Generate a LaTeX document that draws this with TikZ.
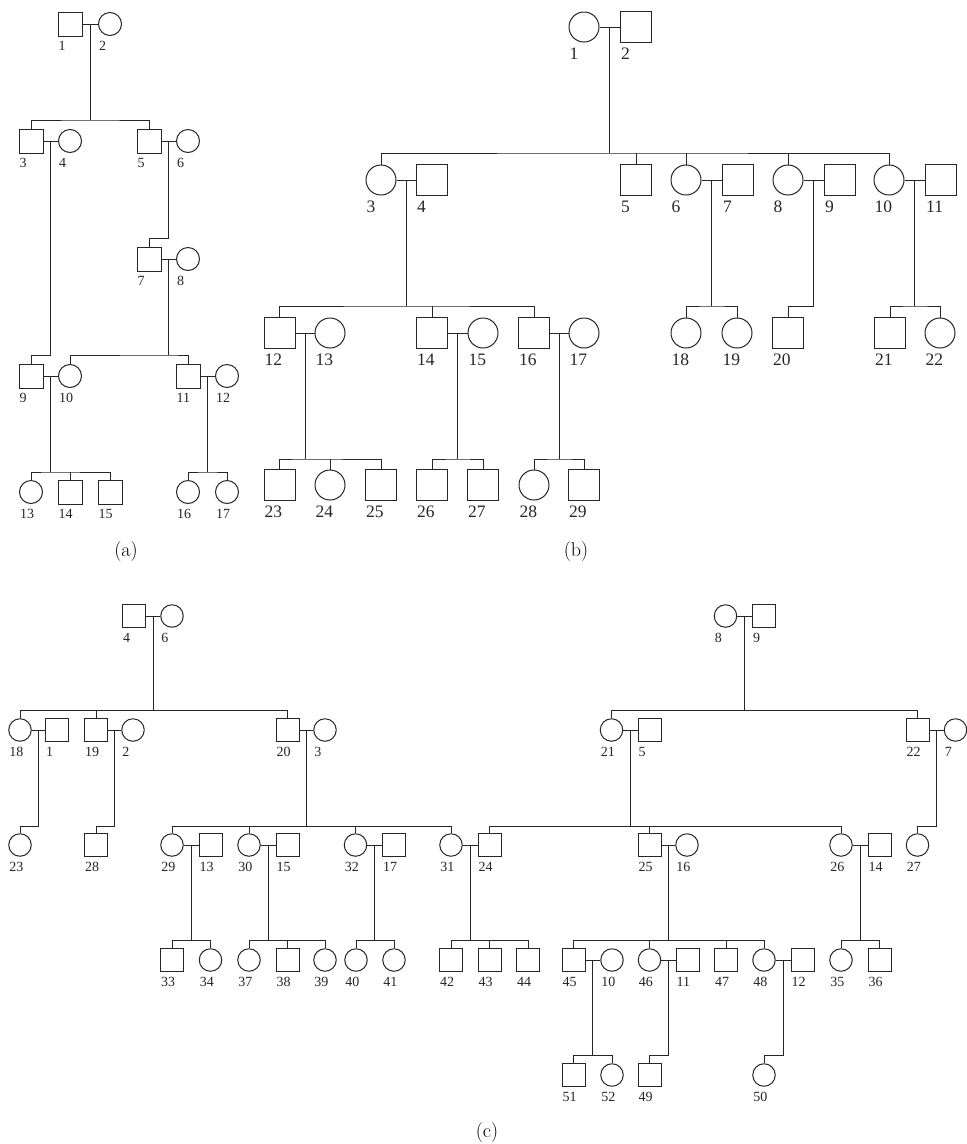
\documentclass[tikz,border=0pt]{standalone}
\usepackage{fontspec}
\newfontfamily\tnr{Liberation Serif}
\usetikzlibrary{calc}
\tikzset{
  ln/.style={line width=1pt, draw=black!85},
  Ma/.style={ln, rectangle, minimum size=24pt, inner sep=0pt},
  Fa/.style={ln, circle, minimum size=23pt, inner sep=0pt},
  Mc/.style={ln, rectangle, minimum size=23pt, inner sep=0pt},
  Fc/.style={ln, circle, minimum size=22.5pt, inner sep=0pt},
  Mb/.style={ln, rectangle, minimum size=31pt, inner sep=0pt},
  Fb/.style={ln, circle, minimum size=30pt, inner sep=0pt},
  labA/.style={anchor=north west, inner sep=0pt, font=\tnr\fontsize{14}{16}\selectfont, text=black!85},
  labB/.style={anchor=north west, inner sep=0pt, font=\tnr\fontsize{17.5}{20}\selectfont, text=black!85},
  captxt/.style={inner sep=0pt, font=\fontsize{20}{23}\selectfont},
}
\newcommand\ind[6]{%
  \node[#1] (#3) at (#4,#5) {};
  \node[#2] (#3l) at ($(#3.west |- #3.south)+(1,5)$) {#6};}
\newcommand\cpl[3]{%
  \draw[ln] (#2) -- (#3);
  \coordinate (#1) at ($(#2.east)!.5!(#3.west)$);}
\begin{document}
\begin{tikzpicture}[x=1pt,y=-1pt]
\useasboundingbox (0,0) rectangle (967,1144);
\fill[white] (0,0) rectangle (967,1144);

% ---------------- (a)
\ind{Ma}{labA}{a1}{70}{24}{1}
\ind{Fa}{labA}{a2}{110}{24}{2}
\ind{Ma}{labA}{a3}{31}{141}{3}
\ind{Fa}{labA}{a4}{70}{141}{4}
\ind{Ma}{labA}{a5}{149}{141}{5}
\ind{Fa}{labA}{a6}{188}{141}{6}
\ind{Ma}{labA}{a7}{149}{259}{7}
\ind{Fa}{labA}{a8}{188}{259}{8}
\ind{Ma}{labA}{a9}{31}{376}{9}
\ind{Fa}{labA}{a10}{70}{376}{10}
\ind{Ma}{labA}{a11}{188}{376}{11}
\ind{Fa}{labA}{a12}{227}{376}{12}
\ind{Fa}{labA}{a13}{31}{492}{13}
\ind{Ma}{labA}{a14}{70}{492}{14}
\ind{Ma}{labA}{a15}{110}{492}{15}
\ind{Fa}{labA}{a16}{188}{492}{16}
\ind{Fa}{labA}{a17}{227}{492}{17}
\cpl{ma1}{a1}{a2}
\cpl{ma3}{a3}{a4}
\cpl{ma5}{a5}{a6}
\cpl{ma7}{a7}{a8}
\cpl{ma9}{a9}{a10}
\cpl{ma11}{a11}{a12}
\coordinate (ja1) at (ma1 |- 0,120);
\draw[ln] (ma1) -- (ja1); \draw[ln] (a3.north) |- (ja1) -| (a5.north);
\coordinate (ja5) at (ma5 |- 0,238);
\draw[ln] (ma5) -- (ja5) -| (a7.north);
\coordinate (ja3) at (ma3 |- 0,355);
\draw[ln] (ma3) -- (ja3) -| (a9.north);
\coordinate (ja7) at (ma7 |- 0,355);
\draw[ln] (ma7) -- (ja7); \draw[ln] (a10.north) |- (ja7) -| (a11.north);
\coordinate (ja9) at (ma9 |- 0,472);
\draw[ln] (ma9) -- (ja9); \draw[ln] (a13.north) |- (ja9) -| (a15.north);
\draw[ln] (a14.north) -- (a14.north |- ja9);
\coordinate (ja11) at (ma11 |- 0,472);
\draw[ln] (ma11) -- (ja11); \draw[ln] (a16.north) |- (ja11) -| (a17.north);
\node[captxt] (capa) at (126,552) {(a)};

% ---------------- (b)
\ind{Fb}{labB}{b1}{584}{27}{1}
\ind{Mb}{labB}{b2}{636}{27}{2}
\ind{Fb}{labB}{b3}{381}{180}{3}
\ind{Mb}{labB}{b4}{432}{180}{4}
\ind{Mb}{labB}{b5}{636}{180}{5}
\ind{Fb}{labB}{b6}{686}{180}{6}
\ind{Mb}{labB}{b7}{738}{180}{7}
\ind{Fb}{labB}{b8}{788}{180}{8}
\ind{Mb}{labB}{b9}{840}{180}{9}
\ind{Fb}{labB}{b10}{889}{180}{10}
\ind{Mb}{labB}{b11}{941}{180}{11}
\ind{Mb}{labB}{b12}{279.5}{333}{12}
\ind{Fb}{labB}{b13}{330}{333}{13}
\ind{Mb}{labB}{b14}{432}{333}{14}
\ind{Fb}{labB}{b15}{483}{333}{15}
\ind{Mb}{labB}{b16}{534}{333}{16}
\ind{Fb}{labB}{b17}{584}{333}{17}
\ind{Fb}{labB}{b18}{686}{333}{18}
\ind{Fb}{labB}{b19}{737}{333}{19}
\ind{Mb}{labB}{b20}{788}{333}{20}
\ind{Mb}{labB}{b21}{890}{333}{21}
\ind{Fb}{labB}{b22}{940}{333}{22}
\ind{Mb}{labB}{b23}{279.5}{485}{23}
\ind{Fb}{labB}{b24}{330}{485}{24}
\ind{Mb}{labB}{b25}{381}{485}{25}
\ind{Mb}{labB}{b26}{432}{485}{26}
\ind{Mb}{labB}{b27}{483}{485}{27}
\ind{Fb}{labB}{b28}{534}{485}{28}
\ind{Mb}{labB}{b29}{584}{485}{29}
\cpl{mb1}{b1}{b2}
\cpl{mb3}{b3}{b4}
\cpl{mb6}{b6}{b7}
\cpl{mb8}{b8}{b9}
\cpl{mb10}{b10}{b11}
\cpl{mb12}{b12}{b13}
\cpl{mb14}{b14}{b15}
\cpl{mb16}{b16}{b17}
\coordinate (jb1) at (mb1 |- 0,153);
\draw[ln] (mb1) -- (jb1); \draw[ln] (b3.north) |- (jb1) -| (b10.north);
\foreach \k in {b5,b6,b8} \draw[ln] (\k.north) -- (\k.north |- jb1);
\coordinate (jb3) at (mb3 |- 0,306);
\draw[ln] (mb3) -- (jb3); \draw[ln] (b12.north) |- (jb3) -| (b16.north);
\draw[ln] (b14.north) -- (b14.north |- jb3);
\coordinate (jb6) at (mb6 |- 0,306);
\draw[ln] (mb6) -- (jb6); \draw[ln] (b18.north) |- (jb6) -| (b19.north);
\coordinate (jb8) at (mb8 |- 0,306);
\draw[ln] (mb8) -- (jb8) -| (b20.north);
\coordinate (jb10) at (mb10 |- 0,306);
\draw[ln] (mb10) -- (jb10); \draw[ln] (b21.north) |- (jb10) -| (b22.north);
\coordinate (jb12) at (mb12 |- 0,459);
\draw[ln] (mb12) -- (jb12); \draw[ln] (b23.north) |- (jb12) -| (b25.north);
\draw[ln] (b24.north) -- (b24.north |- jb12);
\coordinate (jb14) at (mb14 |- 0,459);
\draw[ln] (mb14) -- (jb14); \draw[ln] (b26.north) |- (jb14) -| (b27.north);
\coordinate (jb16) at (mb16 |- 0,459);
\draw[ln] (mb16) -- (jb16); \draw[ln] (b28.north) |- (jb16) -| (b29.north);
\node[captxt] (capb) at (576,552) {(b)};

% ---------------- (c)
\ind{Mc}{labA}{c4}{134}{616}{4}
\ind{Fc}{labA}{c6}{172}{616}{6}
\ind{Fc}{labA}{c8}{725.5}{616}{8}
\ind{Mc}{labA}{c9}{764}{616}{9}
\ind{Fc}{labA}{c18}{20}{730}{18}
\ind{Mc}{labA}{c1}{57}{730}{1}
\ind{Mc}{labA}{c19}{96}{730}{19}
\ind{Fc}{labA}{c2}{133}{730}{2}
\ind{Mc}{labA}{c20}{287.5}{730}{20}
\ind{Fc}{labA}{c3}{325}{730}{3}
\ind{Fc}{labA}{c21}{611.5}{730}{21}
\ind{Mc}{labA}{c5}{649.5}{730}{5}
\ind{Mc}{labA}{c22}{917.5}{730}{22}
\ind{Fc}{labA}{c7}{955.5}{730}{7}
\ind{Fc}{labA}{c23}{20}{845}{23}
\ind{Mc}{labA}{c28}{96}{845}{28}
\ind{Fc}{labA}{c29}{172}{845}{29}
\ind{Mc}{labA}{c13}{210.5}{845}{13}
\ind{Fc}{labA}{c30}{249}{845}{30}
\ind{Mc}{labA}{c15}{287.5}{845}{15}
\ind{Fc}{labA}{c32}{355.5}{845}{32}
\ind{Mc}{labA}{c17}{394}{845}{17}
\ind{Fc}{labA}{c31}{451}{845}{31}
\ind{Mc}{labA}{c24}{489.5}{845}{24}
\ind{Mc}{labA}{c25}{649.5}{845}{25}
\ind{Fc}{labA}{c16}{687}{845}{16}
\ind{Fc}{labA}{c26}{841}{845}{26}
\ind{Mc}{labA}{c14}{879.5}{845}{14}
\ind{Fc}{labA}{c27}{917.5}{845}{27}
\ind{Mc}{labA}{c33}{172}{960}{33}
\ind{Fc}{labA}{c34}{210.5}{960}{34}
\ind{Fc}{labA}{c37}{249}{960}{37}
\ind{Mc}{labA}{c38}{287.5}{960}{38}
\ind{Fc}{labA}{c39}{325}{960}{39}
\ind{Fc}{labA}{c40}{356}{960}{40}
\ind{Fc}{labA}{c41}{394}{960}{41}
\ind{Mc}{labA}{c42}{451}{960}{42}
\ind{Mc}{labA}{c43}{489.5}{960}{43}
\ind{Mc}{labA}{c44}{528}{960}{44}
\ind{Mc}{labA}{c45}{573.5}{960}{45}
\ind{Fc}{labA}{c10}{612}{960}{10}
\ind{Fc}{labA}{c46}{649.5}{960}{46}
\ind{Mc}{labA}{c11}{687.5}{960}{11}
\ind{Mc}{labA}{c47}{726}{960}{47}
\ind{Fc}{labA}{c48}{764}{960}{48}
\ind{Mc}{labA}{c12}{802.5}{960}{12}
\ind{Fc}{labA}{c35}{841}{960}{35}
\ind{Mc}{labA}{c36}{879.5}{960}{36}
\ind{Mc}{labA}{c51}{573.5}{1075}{51}
\ind{Fc}{labA}{c52}{612}{1075}{52}
\ind{Mc}{labA}{c49}{649.5}{1075}{49}
\ind{Fc}{labA}{c50}{764}{1075}{50}
\cpl{mc4}{c4}{c6}
\cpl{mc8}{c8}{c9}
\cpl{mc18}{c18}{c1}
\cpl{mc19}{c19}{c2}
\cpl{mc20}{c20}{c3}
\cpl{mc21}{c21}{c5}
\cpl{mc22}{c22}{c7}
\cpl{mc29}{c29}{c13}
\cpl{mc30}{c30}{c15}
\cpl{mc32}{c32}{c17}
\cpl{mc31}{c31}{c24}
\cpl{mc25}{c25}{c16}
\cpl{mc26}{c26}{c14}
\cpl{mc45}{c45}{c10}
\cpl{mc46}{c46}{c11}
\cpl{mc48}{c48}{c12}
\coordinate (jc4) at (mc4 |- 0,710);
\draw[ln] (mc4) -- (jc4); \draw[ln] (c18.north) |- (jc4) -| (c20.north);
\draw[ln] (c19.north) -- (c19.north |- jc4);
\coordinate (jc8) at (mc8 |- 0,710);
\draw[ln] (mc8) -- (jc8); \draw[ln] (c21.north) |- (jc8) -| (c22.north);
\coordinate (jc18) at (mc18 |- 0,826);
\draw[ln] (mc18) -- (jc18) -| (c23.north);
\coordinate (jc19) at (mc19 |- 0,826);
\draw[ln] (mc19) -- (jc19) -| (c28.north);
\coordinate (jc20) at (mc20 |- 0,826);
\draw[ln] (mc20) -- (jc20); \draw[ln] (c29.north) |- (jc20) -| (c31.north);
\foreach \k in {c30,c32} \draw[ln] (\k.north) -- (\k.north |- jc20);
\coordinate (jc21) at (mc21 |- 0,826);
\draw[ln] (mc21) -- (jc21); \draw[ln] (c24.north) |- (jc21) -| (c26.north);
\draw[ln] (c25.north) -- (c25.north |- jc21);
\coordinate (jc22) at (mc22 |- 0,826);
\draw[ln] (mc22) -- (jc22) -| (c27.north);
\coordinate (jc29) at (mc29 |- 0,940);
\draw[ln] (mc29) -- (jc29); \draw[ln] (c33.north) |- (jc29) -| (c34.north);
\coordinate (jc30) at (mc30 |- 0,940);
\draw[ln] (mc30) -- (jc30); \draw[ln] (c37.north) |- (jc30) -| (c39.north);
\draw[ln] (c38.north) -- (c38.north |- jc30);
\coordinate (jc32) at (mc32 |- 0,940);
\draw[ln] (mc32) -- (jc32); \draw[ln] (c40.north) |- (jc32) -| (c41.north);
\coordinate (jc31) at (mc31 |- 0,940);
\draw[ln] (mc31) -- (jc31); \draw[ln] (c42.north) |- (jc31) -| (c44.north);
\draw[ln] (c43.north) -- (c43.north |- jc31);
\coordinate (jc25) at (mc25 |- 0,940);
\draw[ln] (mc25) -- (jc25); \draw[ln] (c45.north) |- (jc25) -| (c48.north);
\foreach \k in {c46,c47} \draw[ln] (\k.north) -- (\k.north |- jc25);
\coordinate (jc26) at (mc26 |- 0,940);
\draw[ln] (mc26) -- (jc26); \draw[ln] (c35.north) |- (jc26) -| (c36.north);
\coordinate (jc45) at (mc45 |- 0,1055);
\draw[ln] (mc45) -- (jc45); \draw[ln] (c51.north) |- (jc45) -| (c52.north);
\coordinate (jc46) at (mc46 |- 0,1055);
\draw[ln] (mc46) -- (jc46) -| (c49.north);
\coordinate (jc48) at (mc48 |- 0,1055);
\draw[ln] (mc48) -- (jc48) -| (c50.north);
\node[captxt] (capc) at (487,1132) {(c)};
\end{tikzpicture}
\end{document}
